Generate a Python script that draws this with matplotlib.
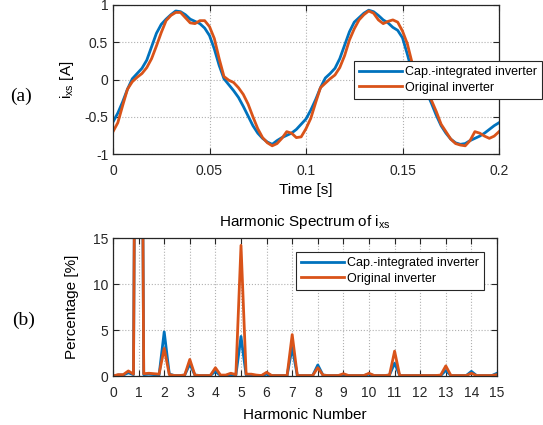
import matplotlib
matplotlib.use("Agg")
import matplotlib.pyplot as plt

# ── data ─────────────────────────────────────────────────────────────────────
time_s = [
    0.0000, 0.0025, 0.0050, 0.0075, 0.0100, 0.0125, 0.0150, 0.0175, 0.0200, 0.0225,
    0.0250, 0.0275, 0.0300, 0.0325, 0.0350, 0.0375, 0.0400, 0.0425, 0.0450, 0.0475,
    0.0500, 0.0525, 0.0550, 0.0575, 0.0600, 0.0625, 0.0650, 0.0675, 0.0700, 0.0725,
    0.0750, 0.0775, 0.0800, 0.0825, 0.0850, 0.0875, 0.0900, 0.0925, 0.0950, 0.0975,
    0.1000, 0.1025, 0.1050, 0.1075, 0.1100, 0.1125, 0.1150, 0.1175, 0.1200, 0.1225,
    0.1250, 0.1275, 0.1300, 0.1325, 0.1350, 0.1375, 0.1400, 0.1425, 0.1450, 0.1475,
    0.1500, 0.1525, 0.1550, 0.1575, 0.1600, 0.1625, 0.1650, 0.1675, 0.1700, 0.1725,
    0.1750, 0.1775, 0.1800, 0.1825, 0.1850, 0.1875, 0.1900, 0.1925, 0.1950, 0.1975,
    0.2000,
]
i_cap = [
    -0.57, -0.45, -0.30, -0.13, 0.01, 0.08, 0.15, 0.26, 0.44, 0.62,
    0.74, 0.81, 0.87, 0.92, 0.91, 0.87, 0.81, 0.78, 0.75, 0.69,
    0.59, 0.41, 0.19, 0.01, -0.07, -0.15, -0.24, -0.36, -0.49, -0.62,
    -0.72, -0.79, -0.84, -0.87, -0.82, -0.78, -0.75, -0.72, -0.67, -0.60,
    -0.53, -0.41, -0.27, -0.11, 0.02, 0.08, 0.15, 0.28, 0.46, 0.64,
    0.77, 0.83, 0.89, 0.93, 0.91, 0.86, 0.80, 0.76, 0.70, 0.66,
    0.56, 0.34, 0.10, -0.05, -0.10, -0.17, -0.32, -0.48, -0.62, -0.72,
    -0.80, -0.85, -0.87, -0.86, -0.82, -0.79, -0.76, -0.72, -0.67, -0.62,
    -0.58,
]
i_orig = [
    -0.70, -0.58, -0.35, -0.13, -0.03, 0.03, 0.08, 0.16, 0.28, 0.45,
    0.63, 0.79, 0.86, 0.90, 0.90, 0.83, 0.76, 0.75, 0.79, 0.79,
    0.71, 0.55, 0.28, 0.04, -0.01, -0.04, -0.11, -0.20, -0.33, -0.50,
    -0.66, -0.78, -0.85, -0.89, -0.86, -0.79, -0.70, -0.72, -0.78, -0.77,
    -0.66, -0.52, -0.31, -0.11, -0.05, 0.01, 0.06, 0.16, 0.32, 0.53,
    0.68, 0.80, 0.87, 0.92, 0.89, 0.80, 0.75, 0.78, 0.80, 0.77,
    0.65, 0.48, 0.22, 0.00, -0.05, -0.14, -0.28, -0.43, -0.60, -0.70,
    -0.80, -0.86, -0.88, -0.89, -0.82, -0.70, -0.72, -0.76, -0.79, -0.76,
    -0.70,
]

harm = [
    0.0, 0.2, 0.4, 0.6, 0.8, 1.0, 1.2, 1.4, 1.6, 1.8,
    2.0, 2.2, 2.4, 2.6, 2.8, 3.0, 3.2, 3.4, 3.6, 3.8,
    4.0, 4.2, 4.4, 4.6, 4.8, 5.0, 5.2, 5.4, 5.6, 5.8,
    6.0, 6.2, 6.4, 6.6, 6.8, 7.0, 7.2, 7.4, 7.6, 7.8,
    8.0, 8.2, 8.4, 8.6, 8.8, 9.0, 9.2, 9.4, 9.6, 9.8,
    10.0, 10.2, 10.4, 10.6, 10.8, 11.0, 11.2, 11.4, 11.6, 11.8,
    12.0, 12.2, 12.4, 12.6, 12.8, 13.0, 13.2, 13.4, 13.6, 13.8,
    14.0, 14.2, 14.4, 14.6, 14.8, 15.0,
]
pct_cap = [
    0.0, 0.1, 0.1, 0.35, 0.15, 100.0, 0.15, 0.2, 0.15, 0.1,
    4.8, 0.2, 0.05, 0.05, 0.1, 1.3, 0.1, 0.05, 0.05, 0.05,
    0.5, 0.05, 0.05, 0.15, 0.1, 4.3, 0.1, 0.1, 0.05, 0.05,
    0.2, 0.05, 0.05, 0.05, 0.05, 3.1, 0.05, 0.05, 0.05, 0.05,
    1.2, 0.1, 0.05, 0.05, 0.05, 0.1, 0.05, 0.05, 0.05, 0.05,
    0.2, 0.05, 0.05, 0.05, 0.1, 1.4, 0.05, 0.05, 0.05, 0.05,
    0.05, 0.05, 0.05, 0.05, 0.05, 0.6, 0.05, 0.05, 0.05, 0.05,
    0.5, 0.05, 0.05, 0.05, 0.05, 0.3,
]
pct_orig = [
    0.0, 0.15, 0.15, 0.55, 0.2, 100.0, 0.25, 0.3, 0.25, 0.2,
    3.0, 0.15, 0.05, 0.05, 0.1, 1.8, 0.1, 0.05, 0.05, 0.05,
    0.9, 0.1, 0.1, 0.3, 0.15, 14.2, 0.2, 0.2, 0.1, 0.05,
    0.4, 0.05, 0.05, 0.05, 0.05, 4.5, 0.05, 0.05, 0.05, 0.05,
    0.9, 0.1, 0.05, 0.05, 0.05, 0.25, 0.05, 0.05, 0.05, 0.05,
    0.3, 0.05, 0.05, 0.05, 0.1, 2.7, 0.05, 0.05, 0.05, 0.05,
    0.05, 0.05, 0.05, 0.05, 0.1, 1.1, 0.05, 0.05, 0.05, 0.05,
    0.3, 0.05, 0.05, 0.05, 0.05, 0.15,
]

BLUE = "#0072BD"
ORANGE = "#D95319"
LABELS = ["Cap.-integrated inverter", "Original inverter"]

plt.rcParams["font.family"] = ["Liberation Sans", "DejaVu Sans"]
plt.rcParams["mathtext.fontset"] = "custom"
plt.rcParams["mathtext.rm"] = "Liberation Sans"
plt.rcParams["mathtext.it"] = "Liberation Sans"

W, H = 543, 425
fig = plt.figure(figsize=(W / 100, H / 100), dpi=100)


def matlab_axes(ax):
    ax.tick_params(direction="in", top=True, right=True, labelsize=10,
                   length=4, width=0.8, colors="#262626")
    ax.tick_params(axis="x", pad=7)
    ax.grid(True, color="#b0b0b0", ls=":", lw=0.8)
    for sp in ax.spines.values():
        sp.set_color("#262626")
        sp.set_linewidth(0.9)


# ── (a) time waveform ────────────────────────────────────────────────────────
ax1 = fig.add_axes([113 / W, 1 - 154 / H, 386 / W, 149 / H])
ax1.plot(time_s, i_cap, color=BLUE, lw=2.0, label=LABELS[0])
ax1.plot(time_s, i_orig, color=ORANGE, lw=2.0, label=LABELS[1])
ax1.set_xlim(0, 0.2)
ax1.set_ylim(-1, 1)
ax1.set_xticks([0, 0.05, 0.1, 0.15, 0.2])
ax1.set_xticklabels(["0", "0.05", "0.1", "0.15", "0.2"])
ax1.set_yticks([-1, -0.5, 0, 0.5, 1])
ax1.set_yticklabels(["-1", "-0.5", "0", "0.5", "1"])
ax1.set_xlabel("Time [s]", fontsize=11, labelpad=4)
ax1.set_ylabel(r"$\mathregular{i_{xs}}$ [A]", fontsize=11, labelpad=6)
matlab_axes(ax1)
leg1 = ax1.legend(loc="upper left", bbox_to_anchor=(354 / W, 1 - 61 / H),
                  bbox_transform=fig.transFigure, borderaxespad=0,
                  fancybox=False, edgecolor="#262626", fontsize=9,
                  handlelength=3.4, handletextpad=0.3, labelspacing=0.3,
                  borderpad=0.4, framealpha=1)
leg1.get_frame().set_linewidth(0.8)
fig.text(10 / W, 1 - 96 / H, "(a)", family="Liberation Serif", fontsize=14,
         ha="left", va="center")

# ── (b) harmonic spectrum ────────────────────────────────────────────────────
ax2 = fig.add_axes([113 / W, 1 - 376 / H, 384 / W, 138 / H])
ax2.plot(harm, pct_cap, color=BLUE, lw=2.0, label=LABELS[0])
ax2.plot(harm, pct_orig, color=ORANGE, lw=2.0, label=LABELS[1])
ax2.set_xlim(0, 15)
ax2.set_ylim(0, 15)
ax2.set_xticks(range(0, 16))
ax2.set_yticks([0, 5, 10, 15])
ax2.set_xlabel("Harmonic Number", fontsize=11, labelpad=6)
ax2.set_ylabel("Percentage [%]", fontsize=11, labelpad=10)
ax2.set_title(r"Harmonic Spectrum of $\mathregular{i_{xs}}$", fontsize=11, pad=9)
matlab_axes(ax2)
leg2 = ax2.legend(loc="upper left", bbox_to_anchor=(296 / W, 1 - 252 / H),
                  bbox_transform=fig.transFigure, borderaxespad=0,
                  fancybox=False, edgecolor="#262626", fontsize=9,
                  handlelength=3.4, handletextpad=0.3, labelspacing=0.3,
                  borderpad=0.4, framealpha=1)
leg2.get_frame().set_linewidth(0.8)
fig.text(12 / W, 1 - 320 / H, "(b)", family="Liberation Serif", fontsize=14,
         ha="left", va="center")

fig.savefig("out.png", dpi=100)
plt.close(fig)
